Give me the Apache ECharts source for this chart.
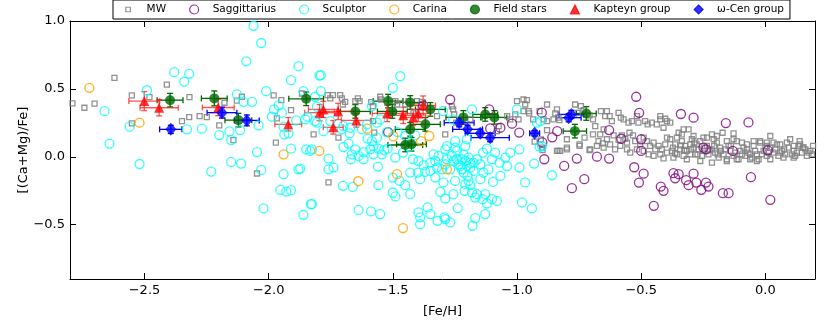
<!DOCTYPE html>
<html>
<head>
<meta charset="utf-8">
<script src="https://cdn.jsdelivr.net/npm/echarts@6.0.0/dist/echarts.min.js"></script>
<style>
html, body { margin: 0; padding: 0; background: #fff; }
#main { width: 830px; height: 332px; }
</style>
</head>
<body>
<div id="main"></div>
<script>
// tick labels
var xTicks = [-2.5, -2.0, -1.5, -1.0, -0.5, 0.0];
var yTicks = [-0.5, 0.0, 0.5, 1.0];

// [Fe/H], [(Ca+Mg)/Fe]
var mw = [
  [-2.790,0.393],[-2.742,0.361],[-2.701,0.391],[-2.621,0.581],[-2.551,0.452],[-2.551,0.246],[-2.480,0.439],
  [-2.410,0.532],[-2.349,0.263],[-2.320,0.292],[-2.278,0.300],[-2.249,0.292],[-2.319,0.439],[-2.199,0.231],
  [-2.178,0.398],[-2.128,0.413],[-2.108,0.442],[-2.142,0.123],[-2.047,-0.123],[-1.980,0.452],[-1.949,0.417],
  [-1.910,0.344],[-1.971,0.104],[-1.967,0.283],[-1.819,0.165],[-1.866,0.466],
  [-1.763,0.454],[-1.741,0.454],[-1.712,0.454],[-1.705,0.430],[-1.752,0.430],[-1.701,0.385],[-1.692,0.405],
  [-1.651,0.410],[-1.634,0.410],[-1.641,0.430],[-1.587,0.402],[-1.580,0.373],[-1.551,0.442],[-1.547,0.422],
  [-1.719,0.141],[-1.759,-0.189],[-1.580,0.263],[-1.575,0.178],[-1.490,0.410],[-1.483,0.385],[-1.450,0.385],
  [-1.437,0.410],[-1.403,0.410],[-1.383,0.405],[-1.322,0.300],[-1.289,0.165],[-1.253,0.312],[-1.245,0.251],
  [-1.188,0.275],[-1.074,0.226],[-1.081,0.189],[-1.040,0.300],[-1.027,0.275],[-1.007,0.312],[-1.000,0.410],
  [-0.974,0.422],[-0.960,0.417],[-0.967,0.385],[-0.994,0.275],[-0.879,0.385],[-0.909,0.336],[-0.893,0.275],
  [-0.879,0.197],[-0.846,0.319],[-0.829,0.270],[-0.839,0.043],[-0.974,0.336],[-0.953,0.336],[-0.904,0.128],
  [-1.262,0.371],[-1.257,0.349],[-0.951,0.319],[-0.935,0.275],[-0.839,0.349],[-0.833,0.288],[-0.853,0.275],
  [-0.879,0.263],[-1.497,0.325],[-1.417,0.325],[-0.929,0.112],[-0.897,0.050],[-0.833,0.043],[-0.900,0.067],
  [-0.826,0.043],[-0.799,0.067],[-0.748,0.092],[-0.705,0.055],
  [-0.766,0.385],[-0.743,0.373],[-0.732,0.344],[-0.756,0.324],[-0.708,0.305],[-0.694,0.275],[-0.685,0.226],
  [-0.662,0.337],[-0.638,0.337],[-0.645,0.300],[-0.627,0.300],[-0.618,0.263],[-0.591,0.324],[-0.582,0.288],
  [-0.571,0.275],[-0.551,0.251],[-0.537,0.263],[-0.517,0.300],[-0.511,0.251],[-0.484,0.263],[-0.474,0.239],
  [-0.457,0.251],[-0.437,0.239],[-0.423,0.275],[-0.396,0.263],[-0.383,0.251],[-0.410,0.214],[-0.423,0.300],
  [-0.403,0.280],
  [-0.651,0.202],[-0.665,0.165],[-0.672,0.116],[-0.654,0.099],[-0.638,0.129],[-0.625,0.092],[-0.611,0.158],
  [-0.591,0.124],[-0.578,0.158],[-0.564,0.133],[-0.557,0.104],[-0.547,0.177],[-0.533,0.158],[-0.524,0.116],
  [-0.504,0.092],[-0.490,0.141],[-0.477,0.116],[-0.464,0.080],[-0.450,0.104],[-0.443,0.055],[-0.430,0.080],
  [-0.417,0.055],[-0.403,0.092],[-0.396,0.141],[-0.383,0.129],[-0.372,0.067],[-0.363,0.092],[-0.349,0.177],
  [-0.343,0.055],[-0.336,0.116],[-0.329,0.202],[-0.323,0.080],[-0.316,0.043],[-0.309,0.202],[-0.302,0.092],
  [-0.296,0.129],[-0.289,0.067],[-0.282,0.018],[-0.276,0.092],[-0.269,0.055],[-0.262,0.116],[-0.255,0.006],
  [-0.249,0.043],[-0.235,0.080],[-0.229,0.018],[-0.215,0.165],[-0.215,0.055],[-0.202,0.031],[-0.195,0.104],
  [-0.188,-0.006],[-0.182,0.067],[-0.172,0.177],[-0.168,0.018],[-0.155,-0.018],[-0.148,0.080],[-0.141,0.043],
  [-0.128,0.173],[-0.128,0.006],[-0.115,0.116],[-0.108,-0.018],[-0.101,0.043],[-0.088,0.067],[-0.081,0.006],
  [-0.068,0.031],[-0.054,-0.006],[-0.047,0.080],[-0.034,0.018],[-0.027,-0.018],[-0.021,0.104],[-0.007,0.043],
  [0.006,0.006],[0.020,0.067],[0.033,0.031],[0.047,0.092],[0.053,0.006],[0.067,0.043],[0.080,0.018],
  [0.094,0.067],[0.100,0.129],[0.114,0.043],[0.120,0.006],[0.134,0.080],[0.138,0.116],[0.147,0.031],
  [0.161,0.055],[0.167,0.006],[0.181,0.043],[0.192,0.080],
  [-0.799,0.129],[-0.799,0.055],[-0.748,0.080],[-0.708,0.050],[-0.728,0.141],[-0.694,0.165],[-0.410,-0.011],
  [-0.370,-0.006],[-0.316,-0.018],[-0.262,-0.031],[-0.215,-0.043],[-0.155,-0.031],[-0.115,-0.018],[-0.061,-0.018],
  [-0.034,-0.031],[0.020,-0.018],[0.073,-0.006],[0.114,-0.006],
  [-0.678,0.080],[-0.651,0.067],[-0.605,0.055],[-0.584,0.080],[-0.557,0.055],[-0.544,0.031],[-0.517,0.055],
  [-0.490,0.043],[-0.470,0.018],[-0.450,0.006],[-0.423,0.018],[-0.396,0.031],[-0.356,0.018],[-0.329,0.006],
  [-0.302,0.018],
  [-0.376,0.043],[-0.363,0.026],[-0.340,0.084],[-0.327,0.050],[-0.300,0.055],[-0.286,0.104],[-0.273,0.018],
  [-0.246,0.067],[-0.225,0.050],[-0.206,0.080],[-0.192,0.018],[-0.179,0.043],[-0.162,0.055],[-0.139,0.080],
  [-0.121,0.031],[-0.094,0.018],[-0.074,0.055],[-0.061,0.018],[-0.041,0.043],[-0.014,0.018],[0.000,0.067],
  [0.013,0.031],[0.040,0.055],[0.060,0.031],[0.076,0.055],[0.107,0.018],[0.127,0.031],[0.151,0.067],
  [0.174,0.031],[0.188,0.018],[-0.235,0.141],[-0.208,0.129],[-0.155,0.116],[-0.094,0.104],[-0.047,0.116],
  [0.006,0.104],[0.060,0.092],[0.114,0.080],[0.006,0.080],[-0.074,0.092],[-0.356,0.141],[-0.336,0.165],
  [-0.289,0.153],[-0.249,0.141],[-0.195,0.153],[-0.128,0.129],[-0.021,0.116],[0.033,0.104],[0.087,0.104],
  [0.140,0.092],[0.020,0.153],[0.154,0.070]
];

var sagittarius = [
  [-1.269,0.422],[-1.519,0.182],[-1.108,0.209],[-1.067,0.214],[-0.991,0.178],[-1.020,0.244],[-0.900,0.325],
  [-0.898,0.106],[-0.890,-0.018],[-0.858,0.143],[-0.838,0.189],[-1.112,0.349],[-1.378,0.378],
  [-0.520,0.442],[-0.508,0.324],[-0.340,0.315],[-0.289,0.288],[-0.159,0.248],[-0.068,0.253],[-0.629,0.197],
  [-0.580,0.133],[-0.500,0.129],[-0.500,0.043],[-0.249,0.067],[-0.238,0.055],[-0.131,0.043],[0.010,0.048],
  [-0.759,-0.013],[-0.678,0.001],[-0.629,-0.013],[-0.810,-0.067],[-0.528,-0.077],[-0.490,-0.124],[-0.729,-0.165],
  [-0.779,-0.231],[-0.509,-0.190],[-0.370,-0.121],[-0.349,-0.128],[-0.363,-0.158],[-0.289,-0.124],[-0.319,-0.172],
  [-0.309,-0.209],[-0.278,-0.190],[-0.239,-0.190],[-0.229,-0.219],[-0.258,-0.243],[-0.421,-0.219],[-0.410,-0.251],
  [-0.171,-0.268],[-0.148,-0.268],[-0.058,-0.150],[0.020,-0.317],[-0.449,-0.361]
];

var sculptor = [
  [-2.061,0.965],[-2.030,0.838],[-2.090,0.703],[-1.880,0.667],[-1.910,0.564],[-2.380,0.623],[-2.320,0.611],
  [-2.340,0.554],[-2.490,0.490],[-2.661,0.336],[-2.560,0.222],[-2.641,0.097],[-2.520,-0.053],[-2.329,0.202],
  [-2.269,0.207],[-2.128,0.459],[-2.101,0.405],[-2.067,0.405],[-2.010,0.483],[-2.199,0.160],[-2.158,0.187],
  [-2.151,0.123],[-2.115,0.197],[-2.041,0.231],[-2.047,0.035],[-2.151,-0.038],[-2.111,-0.050],[-2.231,-0.109],
  [-2.030,-0.097],[-2.021,-0.380],[-1.978,0.349],[-1.987,0.295],[-1.960,0.378],[-1.947,0.325],[-1.940,0.222],
  [-1.920,0.173],[-1.910,0.060],[-1.889,0.268],[-1.860,0.483],[-1.853,0.275],[-1.844,0.295],[-1.806,0.369],
  [-1.795,0.598],[-1.813,0.263],[-1.849,0.055],[-1.833,0.043],[-1.940,-0.128],[-1.880,-0.092],[-1.953,-0.244],
  [-1.929,-0.256],[-1.910,-0.246],[-1.830,-0.349],[-1.860,-0.427],[-1.937,0.165],
  [-1.790,0.601],[-1.470,0.593],[-1.500,0.508],[-1.790,0.483],[-1.813,0.442],[-1.806,0.251],[-1.752,0.263],
  [-1.826,0.055],[-1.759,-0.013],[-1.739,-0.079],[-1.759,-0.092],[-1.699,0.072],[-1.678,0.097],[-1.651,0.055],
  [-1.665,0.018],[-1.638,0.006],[-1.618,0.035],[-1.669,-0.018],[-1.618,-0.018],[-1.591,0.055],[-1.578,0.018],
  [-1.558,0.060],[-1.544,0.018],[-1.535,0.050],[-1.584,0.116],[-1.602,0.134],[-1.521,0.060],[-1.560,-0.072],
  [-1.701,-0.214],[-1.661,-0.222],[-1.558,-0.209],[-1.826,-0.349],[-1.638,-0.391],[-1.588,-0.402],[-1.551,-0.422],
  [-1.500,-0.153],[-1.473,-0.178],[-1.450,-0.209],[-1.500,-0.263],[-1.490,-0.292],[-1.430,-0.275],[-1.490,-0.006],
  [-1.459,0.031],[-1.433,0.075],[-1.430,-0.116],[-1.419,-0.018],[-1.397,-0.031],[-1.399,-0.116],[-1.390,-0.165],
  [-1.370,-0.111],[-1.376,-0.062],[-1.349,-0.043],[-1.329,-0.031],[-1.336,0.018],[-1.316,0.006],[-1.322,-0.079],
  [-1.302,-0.092],[-1.289,-0.055],[-1.269,-0.092],[-1.282,-0.018],[-1.289,0.055],[-1.282,0.079],[-1.249,0.116],
  [-1.249,0.067],[-1.242,-0.018],[-1.235,-0.055],[-1.222,-0.092],[-1.202,-0.068],[-1.215,-0.116],[-1.199,-0.141],
  [-1.195,-0.178],[-1.188,-0.209],[-1.175,-0.104],[-1.211,-0.251],[-1.181,-0.263],[-1.161,-0.275],[-1.128,-0.275],
  [-1.101,-0.312],[-1.081,-0.325],[-1.188,-0.043],[-1.161,-0.018],[-1.148,-0.055],[-1.135,-0.116],[-1.115,-0.092],
  [-1.097,-0.185],[-1.148,-0.165],[-1.137,0.031],[-1.101,-0.018],[-1.121,0.060],[-1.088,0.031],[-1.070,-0.043],
  [-1.067,-0.141],[-1.047,-0.006],[-1.040,-0.068],[-1.027,0.031],[-0.990,-0.079],[-0.967,-0.189],[-0.980,-0.336],
  [-0.940,-0.380],[-1.128,-0.422],[-1.179,-0.508],[-1.289,-0.459],[-1.269,-0.483],[-1.320,-0.471],[-1.349,-0.422],
  [-1.360,-0.373],[-1.390,-0.496],[-1.397,-0.410],[-1.390,-0.446],[-1.309,-0.258],[-1.289,-0.307],[-1.256,-0.275],
  [-1.208,-0.202],[-1.249,-0.178],[-1.296,-0.189],[-1.329,-0.153],[-1.349,-0.104],[-1.208,0.079],[-1.202,0.128],
  [-1.298,0.336],[-1.181,0.349],[-0.990,0.055],[-0.931,-0.050],[-0.859,-0.136],[-1.000,0.349],[-0.920,0.251],
  [-0.909,0.075],[-1.524,0.182],[-1.674,0.173],[-1.699,0.226],[-1.625,0.202],[-1.564,0.141],[-1.578,0.079],
  [-1.481,0.182],[-1.450,0.153],[-1.410,0.158],[-1.672,0.214],[-1.604,0.239],[-1.564,0.251],[-1.551,0.275],
  [-1.584,0.373],[-1.257,0.275],[-0.906,0.263],[-0.899,0.079],[-1.873,-0.087],[-1.292,-0.446],[-1.239,-0.378],
  [-1.168,-0.451],[-1.168,-0.300],[-1.139,-0.312],[-1.121,-0.344],[-1.222,-0.018],[-1.208,-0.031],[-1.195,-0.006],
  [-1.215,0.018],[-1.228,-0.067],[-1.255,-0.031],[-1.262,0.006],[-1.242,0.043],[-1.188,-0.080],[-1.175,-0.043],
  [-1.779,0.189],[-1.705,0.202]
];

var carina = [
  [-2.722,0.508],[-2.520,0.251],[-1.940,0.018],[-1.796,0.043],[-1.603,0.207],[-1.639,-0.180],
  [-1.483,-0.128],[-1.498,0.151],[-1.386,0.116],[-1.353,0.153],[-1.282,-0.092],[-1.459,-0.525]
];

// [Fe/H], [(Ca+Mg)/Fe], x error, y error
var fieldStars = [
  [-2.397,0.417,0.052,0.05],[-2.219,0.430,0.052,0.055],[-2.122,0.270,0.054,0.05],[-1.849,0.427,0.07,0.05],
  [-1.519,0.410,0.06,0.05],[-1.430,0.400,0.06,0.05],[-1.502,0.334,0.06,0.05],[-1.651,0.334,0.06,0.05],
  [-1.349,0.349,0.06,0.05],[-1.369,0.239,0.06,0.05],[-1.430,0.202,0.06,0.05],[-1.450,0.087,0.07,0.05],
  [-1.425,0.092,0.06,0.05],[-1.216,0.290,0.07,0.05],[-1.128,0.312,0.05,0.05],[-1.091,0.290,0.05,0.05],
  [-0.721,0.319,0.04,0.05],[-0.767,0.189,0.047,0.05]
];

var kapteyn = [
  [-2.501,0.410,0.062,0.07],[-2.441,0.361,0.077,0.06],[-2.203,0.363,0.064,0.06],[-1.921,0.239,0.054,0.05],
  [-1.780,0.349,0.06,0.06],[-1.795,0.325,0.06,0.06],[-1.720,0.334,0.06,0.06],[-1.740,0.217,0.04,0.05],
  [-1.647,0.268,0.06,0.05],[-1.523,0.319,0.06,0.06],[-1.458,0.305,0.06,0.06],[-1.418,0.290,0.05,0.06],
  [-1.398,0.319,0.05,0.06],[-1.378,0.378,0.05,0.07]
];

var omegaCen = [
  [-2.394,0.202,0.045,0.03],[-2.188,0.325,0.06,0.04],[-2.088,0.268,0.05,0.04],[-1.233,0.251,0.06,0.03],
  [-1.199,0.202,0.06,0.03],[-1.148,0.173,0.06,0.03],[-1.108,0.141,0.077,0.03],[-0.929,0.173,0.02,0.02],
  [-0.792,0.288,0.05,0.03],[-0.781,0.312,0.05,0.03]
];

var font = 'DejaVu Sans';

function fmt(v) {
  return v.toFixed(1).replace('-', '\u2212');
}

function errorBars(color) {
  return function (params, api) {
    var x = api.value(0), y = api.value(1), ex = api.value(2), ey = api.value(3);
    var l = api.coord([x - ex, y]), r = api.coord([x + ex, y]);
    var b = api.coord([x, y - ey]), t = api.coord([x, y + ey]);
    var c = 3;
    var st = { stroke: color, lineWidth: 1.3 };
    return {
      type: 'group',
      children: [
        { type: 'line', shape: { x1: l[0], y1: l[1], x2: r[0], y2: r[1] }, style: st },
        { type: 'line', shape: { x1: l[0], y1: l[1] - c, x2: l[0], y2: l[1] + c }, style: st },
        { type: 'line', shape: { x1: r[0], y1: r[1] - c, x2: r[0], y2: r[1] + c }, style: st },
        { type: 'line', shape: { x1: b[0], y1: b[1], x2: t[0], y2: t[1] }, style: st },
        { type: 'line', shape: { x1: b[0] - c, y1: b[1], x2: b[0] + c, y2: b[1] }, style: st },
        { type: 'line', shape: { x1: t[0] - c, y1: t[1], x2: t[0] + c, y2: t[1] }, style: st }
      ]
    };
  };
}

function hollow(name, data, symbol, size, color) {
  return {
    name: name, type: 'scatter', data: data, symbol: symbol, symbolSize: size,
    itemStyle: { color: 'rgba(255,255,255,0)', borderColor: color, borderWidth: 1.3, opacity: 1 },
    emphasis: { disabled: true }
  };
}

function filled(name, data, symbol, size, color) {
  return {
    name: name, type: 'scatter', data: data, symbol: symbol, symbolSize: size,
    encode: { x: 0, y: 1 },
    itemStyle: { color: color, borderColor: color, borderWidth: 0 },
    emphasis: { disabled: true }
  };
}

function bars(name, data, color) {
  return {
    name: name, type: 'custom', data: data, renderItem: errorBars(color),
    encode: { x: 0, y: 1 }, silent: true
  };
}

var xBase = {
  type: 'value', min: -2.8, max: 0.2, gridIndex: 0,
  axisLine: { show: true, onZero: false, lineStyle: { color: '#000', width: 1 } },
  axisTick: { show: true, inside: true, length: 6, customValues: xTicks, lineStyle: { color: '#000', width: 1 } },
  splitLine: { show: false }
};
var yBase = {
  type: 'value', min: -0.9, max: 1.0, gridIndex: 0,
  axisLine: { show: true, onZero: false, lineStyle: { color: '#000', width: 1 } },
  axisTick: { show: true, inside: true, length: 6, customValues: yTicks, lineStyle: { color: '#000', width: 1 } },
  splitLine: { show: false }
};

var myChart = echarts.init(document.getElementById('main'), null, { renderer: 'canvas' });
var option = {
  animation: false,
  backgroundColor: '#fff',
  grid: { left: 70, right: 15, top: 21, bottom: 53, containLabel: false, outerBoundsMode: 'none' },
  legend: {
    left: 113, top: 0, orient: 'horizontal',
    itemWidth: 9, itemHeight: 9, itemGap: 23,
    padding: [4, 6, 4, 10],
    borderColor: '#000', borderWidth: 1, borderRadius: 0, backgroundColor: '#fff',
    textStyle: { fontFamily: font, fontSize: 10.5, color: '#000', padding: [0, 0, 0, 9] },
    itemStyle: { borderWidth: 1.2 },
    selectedMode: false,
    data: [
      { name: 'MW', icon: 'path://M0,0M10,10M2.5,2.5L7.5,2.5L7.5,7.5L2.5,7.5Z' },
      'Saggittarius', 'Sculptor', 'Carina', 'Field stars', 'Kapteyn group', '\u03c9-Cen group'
    ]
  },
  xAxis: [
    Object.assign({}, xBase, {
      position: 'bottom',
      axisLabel: { customValues: xTicks, formatter: fmt, color: '#000', fontSize: 13, fontFamily: font, margin: 5 },
      name: '[Fe/H]', nameLocation: 'middle', nameGap: 26, nameMoveOverlap: false,
      nameTextStyle: { color: '#000', fontSize: 13, fontFamily: font }
    }),
    Object.assign({}, xBase, { position: 'top', axisLabel: { show: false } })
  ],
  yAxis: [
    Object.assign({}, yBase, {
      position: 'left',
      axisLabel: { customValues: yTicks, formatter: fmt, color: '#000', fontSize: 13, fontFamily: font, margin: 5 },
      name: '[(Ca+Mg)/Fe]', nameLocation: 'middle', nameGap: 40, nameMoveOverlap: false,
      nameTextStyle: { color: '#000', fontSize: 13, fontFamily: font }
    }),
    Object.assign({}, yBase, { position: 'right', axisLabel: { show: false } })
  ],
  series: [
    hollow('MW', mw, 'rect', 5, 'rgba(128,128,128,0.85)'),
    hollow('Saggittarius', sagittarius, 'circle', 9, 'rgba(128,0,128,0.8)'),
    hollow('Sculptor', sculptor, 'circle', 9, 'rgba(0,255,255,0.8)'),
    hollow('Carina', carina, 'circle', 9, 'rgba(255,165,0,0.85)'),
    bars('fieldErr', fieldStars, '#006800'),
    filled('Field stars', fieldStars, 'circle', 10, '#006800'),
    bars('kapteynErr', kapteyn, 'rgba(255,30,30,0.75)'),
    filled('Kapteyn group', kapteyn, 'triangle', 10, '#ff0000'),
    bars('omegaErr', omegaCen, '#0000ff'),
    filled('\u03c9-Cen group', omegaCen, 'diamond', [11, 13], '#0000ff')
  ]
};
myChart.setOption(option);
</script>
</body>
</html>
